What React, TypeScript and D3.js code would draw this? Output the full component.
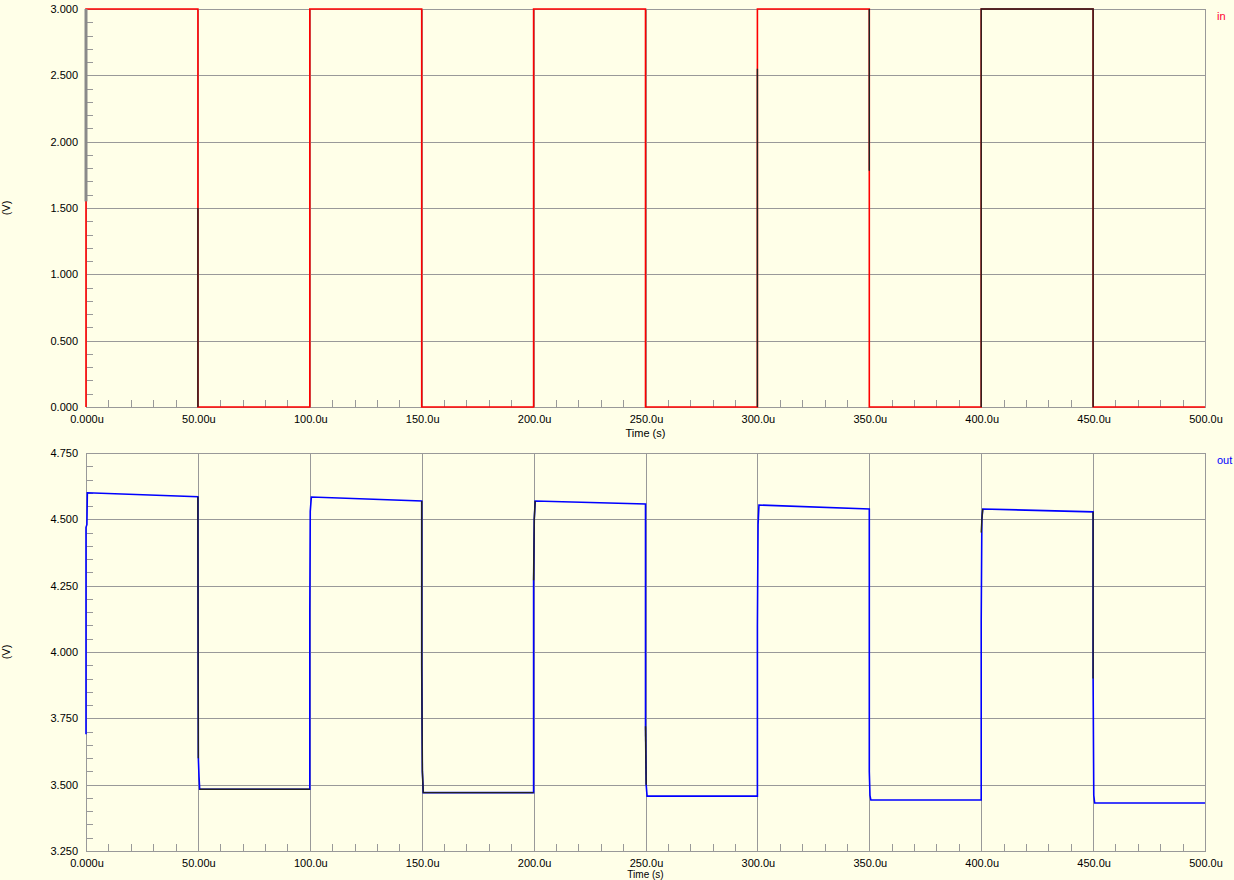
import React from "react";
import * as d3 from "d3";

// ---- data ----
const timeTicks = [0, 50, 100, 150, 200, 250, 300, 350, 400, 450, 500];
const timeTickLabels = ["0.000u", "50.00u", "100.0u", "150.0u", "200.0u", "250.0u", "300.0u", "350.0u", "400.0u", "450.0u", "500.0u"];
const inTicks = [0, 0.5, 1.0, 1.5, 2.0, 2.5, 3.0];
const inTickLabels = ["0.000", "0.500", "1.000", "1.500", "2.000", "2.500", "3.000"];
const outTicks = [3.25, 3.5, 3.75, 4.0, 4.25, 4.5, 4.75];
const outTickLabels = ["3.250", "3.500", "3.750", "4.000", "4.250", "4.500", "4.750"];

// input square wave (time in us, volts)
const inSeries: [number, number][] = [
  [0, 0], [0, 3], [50, 3], [50, 0], [100, 0], [100, 3], [150, 3], [150, 0],
  [200, 0], [200, 3], [250, 3], [250, 0], [300, 0], [300, 3], [350, 3], [350, 0],
  [400, 0], [400, 3], [450, 3], [450, 0], [500, 0],
];
// left-edge portion of the input trace that is covered by a grey bar
const inGrey: [number, number][][] = [
  [[0, 3], [0, 1.55]],
];
// portions of the input trace rendered dark
const inDark: [number, number][][] = [
  [[50, 1.5], [50, 0]],
  [[300, 2.55], [300, 0]],
  [[350, 3], [350, 1.78]],
  [[400, 0], [400, 3], [450, 3], [450, 0]],
];

// output waveform
const outSeries: [number, number][] = [
  [0, 3.69], [0, 4.47], [0.4, 4.48], [0.6, 4.6], [50, 4.585],
  [50, 4.42], [50.2, 3.6], [50.5, 3.53], [50.8, 3.483], [100, 3.483],
  [100, 4.15], [100.2, 4.53], [100.7, 4.584], [150, 4.569],
  [150, 3.95], [150.3, 3.55], [150.7, 3.47], [200, 3.47],
  [200, 4.27], [200.3, 4.5], [200.7, 4.569], [250, 4.558],
  [250, 3.72], [250.3, 3.5], [250.7, 3.457], [300, 3.457],
  [300, 4.1], [300.3, 4.48], [300.7, 4.554], [350, 4.539],
  [350, 3.55], [350.3, 3.46], [350.7, 3.442], [400, 3.442],
  [400, 4.12], [400.3, 4.5], [400.7, 4.539], [450, 4.528],
  [450, 3.9], [450.3, 3.46], [450.7, 3.431], [500, 3.431],
];
const outGrey: [number, number][][] = [];
// portions of the output trace rendered dark
const outDark: [number, number][][] = [
  [[50, 4.585], [50, 4.42], [50.2, 3.6]],
  [[50.8, 3.483], [100, 3.483]],
  [[150, 4.569], [150, 3.95], [150.3, 3.55], [150.7, 3.47], [200, 3.47]],
  [[200, 4.27], [200.3, 4.5], [200.7, 4.569]],
  [[250, 3.72], [250.3, 3.5]],
  [[400, 4.45], [400.3, 4.5], [400.7, 4.539]],
  [[450, 4.528], [450, 3.9]],
];

const BG = "#FFFFE8";
const GRID = "#999999";
const FONT = "'Liberation Sans', Arial, sans-serif";

const X0 = 86;
const X1 = 1205;

type PanelProps = {
  top: number;
  bottom: number;
  yDomain: [number, number];
  yTicks: number[];
  yLabels: string[];
  series: [number, number][];
  dark: [number, number][][];
  grey: [number, number][][];
  color: string;
  legend: string;
  legendColor: string;
  timeLabelY: number;
  timeLabelSize: number;
};

function Panel(p: PanelProps) {
  const x = d3.scaleLinear().domain([0, 500]).range([X0, X1]);
  const y = d3.scaleLinear().domain(p.yDomain).range([p.bottom, p.top]);
  const line = d3
    .line<[number, number]>()
    .x((d) => x(d[0]))
    .y((d) => y(d[1]));
  const yStep = p.yTicks[1] - p.yTicks[0];
  const yMinor: number[] = [];
  for (let i = 0; i < p.yTicks.length - 1; i++) {
    for (let k = 1; k < 5; k++) yMinor.push(p.yTicks[i] + (yStep * k) / 5);
  }
  const xMinor: number[] = [];
  for (let i = 0; i < timeTicks.length - 1; i++) {
    for (let k = 1; k < 5; k++) xMinor.push(timeTicks[i] + (50 * k) / 5);
  }
  const midY = (p.top + p.bottom) / 2;
  return (
    <g>
      {/* grid */}
      {p.yTicks.map((t) => (
        <line key={"gy" + t} x1={X0} x2={X1} y1={Math.round(y(t)) + 0.5} y2={Math.round(y(t)) + 0.5} stroke={GRID} strokeWidth={1} />
      ))}
      {timeTicks.map((t) => (
        <line key={"gx" + t} x1={Math.round(x(t)) + 0.5} x2={Math.round(x(t)) + 0.5} y1={p.top} y2={p.bottom} stroke={GRID} strokeWidth={1} />
      ))}
      {/* minor ticks */}
      {yMinor.map((t, i) => (
        <line key={"my" + i} x1={X0} x2={X0 + 7} y1={Math.round(y(t)) + 0.5} y2={Math.round(y(t)) + 0.5} stroke={GRID} strokeWidth={1} />
      ))}
      {xMinor.map((t, i) => (
        <line key={"mx" + i} x1={Math.round(x(t)) + 0.5} x2={Math.round(x(t)) + 0.5} y1={p.bottom} y2={p.bottom - 7} stroke={GRID} strokeWidth={1} />
      ))}
      {/* frame */}
      <rect x={X0 + 0.5} y={p.top + 0.5} width={X1 - X0} height={p.bottom - p.top} fill="none" stroke={GRID} strokeWidth={1} />
      {/* traces */}
      <path d={line(p.series) || ""} fill="none" stroke={p.color} strokeWidth={1.6} />
      {p.dark.map((seg, i) => (
        <path key={"dk" + i} d={line(seg) || ""} fill="none" stroke="#222" strokeWidth={1.4} />
      ))}
      {p.grey.map((seg, i) => (
        <path key={"gr" + i} d={line(seg) || ""} fill="none" stroke="#8a8a8a" strokeWidth={3} />
      ))}
      {/* y labels */}
      {p.yTicks.map((t, i) => (
        <text key={"yl" + t} x={78} y={y(t) + 4} textAnchor="end" fontSize={11} fontFamily={FONT} fill="#000">
          {p.yLabels[i]}
        </text>
      ))}
      {/* x labels */}
      {timeTicks.map((t, i) => (
        <text key={"xl" + t} x={x(t) + 1} y={p.bottom + 16} textAnchor="middle" fontSize={11} fontFamily={FONT} fill="#000">
          {timeTickLabels[i]}
        </text>
      ))}
      <text x={(X0 + X1) / 2} y={p.timeLabelY} textAnchor="middle" fontSize={p.timeLabelSize} fontFamily={FONT} fill="#000">
        Time (s)
      </text>
      <text transform={`translate(10,${midY}) rotate(-90)`} textAnchor="middle" fontSize={11} fontFamily={FONT} fill="#000">
        (V)
      </text>
      <text x={1217} y={p.top + 11} fontSize={11} fontFamily={FONT} fill={p.legendColor}>
        {p.legend}
      </text>
    </g>
  );
}

export default function App() {
  return (
    <svg
      width={1234}
      height={880}
      style={{ position: "absolute", left: 0, top: 0, background: BG }}
    >
      <rect x={0} y={0} width={1234} height={880} fill={BG} />
      <Panel
        top={9}
        bottom={407}
        yDomain={[0, 3]}
        yTicks={inTicks}
        yLabels={inTickLabels}
        series={inSeries}
        dark={inDark}
        grey={inGrey}
        color="#FF0000"
        legend="in"
        legendColor="#FF0033"
        timeLabelY={437}
        timeLabelSize={11}
      />
      <Panel
        top={453}
        bottom={851}
        yDomain={[3.25, 4.75]}
        yTicks={outTicks}
        yLabels={outTickLabels}
        series={outSeries}
        dark={outDark}
        grey={outGrey}
        color="#0000FF"
        legend="out"
        legendColor="#0000FF"
        timeLabelY={877.5}
        timeLabelSize={10}
      />
    </svg>
  );
}
